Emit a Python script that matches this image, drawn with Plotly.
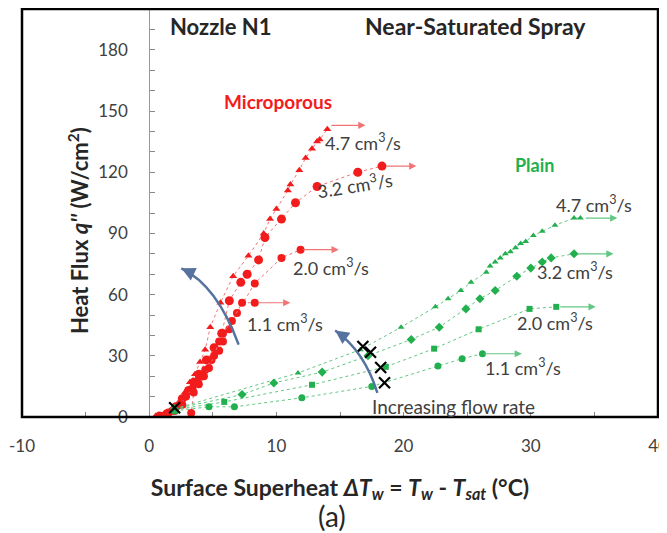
import plotly.graph_objects as go

# ---------------- data ----------------
# Microporous surface (red)
mp47_x = [0.5, 1.2, 1.8, 2.3, 2.8, 3.2, 3.6, 4.0, 4.4, 4.8, 5.6, 6.6, 7.8, 9.0, 9.5, 10.0, 10.9, 11.1, 11.8, 12.3, 12.8, 13.2, 13.4, 14.0]
mp47_y = [0.5, 2, 4, 7, 12, 17, 21, 27, 33, 44, 56, 69, 79, 90, 97, 102, 111, 114, 121, 127, 131.5, 135, 136, 141]
mp32_x = [0.8, 1.5, 2.1, 2.6, 3.1, 3.5, 3.9, 4.5, 5.1, 5.7, 6.3, 7.2, 7.7, 8.6, 9.1, 10.4, 11.5, 13.2, 16.4, 18.3]
mp32_y = [0.5, 2, 5, 9, 13, 17, 21, 28, 34, 41, 57, 66, 70, 77, 88, 97, 105, 113, 120, 123]
mp20_x = [1.0, 1.8, 2.4, 2.9, 3.4, 3.9, 4.4, 4.9, 5.5, 5.8, 6.3, 6.9, 8.3, 10.4, 11.9]
mp20_y = [0.5, 3, 6, 10, 14, 18.7, 23, 28, 32.5, 37, 43, 51, 65.5, 78, 82]
mp11_x = [1.2, 2.0, 2.6, 3.3, 3.5, 3.9, 4.3, 4.7, 5.1, 5.5, 5.8, 6.5, 7.3, 8.3]
mp11_y = [0.5, 3, 6, 2, 12, 16, 20, 24, 30, 37, 41, 47, 56, 56]

# Plain surface (green)
pl47_x = [2.0, 11.7, 16.6, 19.8, 22.5, 23.5, 24.5, 25.3, 26.5, 26.8, 27.2, 27.6, 28.0, 28.4, 28.8, 29.2, 29.6, 30.2, 30.9, 31.9, 33.4, 33.9]
pl47_y = [4, 21.6, 33, 44, 54, 58, 62, 66, 71, 74, 76, 78, 80, 81, 83, 85, 86, 89, 91, 94, 97.5, 97.5]
pl32_x = [2.0, 7.3, 9.8, 13.6, 17.2, 20.6, 22.8, 24.9, 26.0, 27.2, 28.9, 30.0, 30.9, 31.6, 33.4]
pl32_y = [4, 11, 16.7, 22, 30, 38, 44, 53, 58, 62, 69, 73, 76, 78, 80]
pl20_x = [2.0, 5.9, 12.8, 18.6, 22.4, 25.9, 29.9, 32.0]
pl20_y = [3.5, 7.4, 15.8, 24.6, 33.5, 43, 53, 54]
pl11_x = [2.0, 4.7, 6.7, 12.0, 17.5, 22.7, 24.6, 26.2]
pl11_y = [3, 5, 5, 9.4, 15, 25, 28.6, 31]

# Onset markers (black crosses)
onb_x = [2.0, 16.8, 17.4, 18.2, 18.5]
onb_y = [4.5, 34.6, 31.7, 24.3, 16.8]

# CHF arrows: (x_start, x_end, y)
mp_chf = [(14.2, 17.0, 143), (18.5, 21.0, 123), (12.0, 14.9, 82), (8.5, 11.1, 56)]
pl_chf = [(34.2, 36.8, 97.5), (33.6, 36.5, 80), (32.2, 35.1, 54), (26.2, 29.3, 31)]

flow_labels = ["4.7 cm³/s", "3.2 cm³/s", "2.0 cm³/s", "1.1 cm³/s"]

x_ticks = [-10, 0, 10, 20, 30, 40]
x_ticktext = ["-10", "0", "10", "20", "30", "40"]
y_ticks = [0, 30, 60, 90, 120, 150, 180]

RED = "#f21c1c"
RED_L = "#f27474"
GREEN = "#22b04e"
GREEN_L = "#62c783"
BLUE = "#56739f"
TXT = "#404040"
DARK = "#262626"
FONT = "Lato"

fig = go.Figure()

def add_series(x, y, color, lcolor, symbol, size, name):
    fig.add_trace(go.Scatter(
        x=x, y=y, mode="lines+markers", name=name, showlegend=False,
        line=dict(color=lcolor, width=1, dash="dot"),
        marker=dict(symbol=symbol, size=size, color=color, line=dict(width=0)),
    ))

add_series(mp47_x, mp47_y, RED, RED_L, "triangle-up", 7, "Microporous 4.7")
add_series(mp32_x, mp32_y, RED, RED_L, "circle", 9, "Microporous 3.2")
add_series(mp20_x, mp20_y, RED, RED_L, "circle", 8, "Microporous 2.0")
add_series(mp11_x, mp11_y, RED, RED_L, "circle", 8, "Microporous 1.1")
add_series(pl47_x, pl47_y, GREEN, GREEN_L, "triangle-up", 6, "Plain 4.7")
add_series(pl32_x, pl32_y, GREEN, GREEN_L, "diamond", 7, "Plain 3.2")
add_series(pl20_x, pl20_y, GREEN, GREEN_L, "square", 6, "Plain 2.0")
add_series(pl11_x, pl11_y, GREEN, GREEN_L, "circle", 7, "Plain 1.1")

fig.add_trace(go.Scatter(
    x=onb_x, y=onb_y, mode="markers", showlegend=False, name="ONB",
    marker=dict(symbol="x-thin-open", size=11, color="black", line=dict(width=2.2, color="black")),
))

annotations = []
for (x0, x1, yv) in mp_chf:
    annotations.append(dict(x=x1, y=yv, ax=x0, ay=yv, xref="x", yref="y", axref="x", ayref="y",
                            text="", showarrow=True, arrowhead=2, arrowsize=1.2, arrowwidth=1.2,
                            arrowcolor=RED_L, standoff=0))
for (x0, x1, yv) in pl_chf:
    annotations.append(dict(x=x1, y=yv, ax=x0, ay=yv, xref="x", yref="y", axref="x", ayref="y",
                            text="", showarrow=True, arrowhead=2, arrowsize=1.2, arrowwidth=1.2,
                            arrowcolor=GREEN_L, standoff=0))

def txt(x, y, s, size=15, color=TXT, bold=False, angle=0, xanchor="center"):
    annotations.append(dict(x=x, y=y, xref="x", yref="y", text=f"<b>{s}</b>" if bold else s,
                            showarrow=False, font=dict(family=FONT, size=size, color=color),
                            textangle=angle, xanchor=xanchor, yanchor="middle"))

txt(1.45, 191.5, "Nozzle N1", size=22, bold=True, color=DARK, xanchor="left")
txt(16.8, 191.5, "Near-Saturated Spray", size=23, bold=True, color=DARK, xanchor="left")
txt(10.1, 154.5, "Microporous", size=19, bold=True, color=RED)
txt(30.3, 123.5, "Plain", size=18, bold=True, color=GREEN)

mp_lab_pos = [(16.8, 135, 0), (16.2, 113.5, -9), (14.3, 73.4, 0), (10.7, 46.3, 0)]
pl_lab_pos = [(35.0, 104.4, 0), (33.5, 71.4, 0), (31.9, 46.8, 0), (29.4, 24.6, 0)]
for lab, (x, y, a) in zip(flow_labels, mp_lab_pos):
    txt(x, y, lab.replace("³", "<sup>3</sup>"), size=18, angle=a)
for lab, (x, y, a) in zip(flow_labels, pl_lab_pos):
    txt(x, y, lab.replace("³", "<sup>3</sup>"), size=18, angle=a)
txt(23.9, 5.2, "Increasing flow rate", size=19)

# Blue curved arrows (quadratic paths + arrowheads)
arrows = [((7.03, 35.5), (5.34, 64.5), (2.53, 72.9)),
          ((17.94, 11.8), (16.92, 32.3), (14.62, 42.4))]
shapes = []
for p0, c, p2 in arrows:
    shapes.append(dict(type="path", xref="x", yref="y",
                       path=f"M {p0[0]},{p0[1]} Q {c[0]},{c[1]} {p2[0]},{p2[1]}",
                       line=dict(color=BLUE, width=2.5)))
    ax = p2[0] - 0.25 * (p2[0] - c[0])
    ay = p2[1] - 0.25 * (p2[1] - c[1])
    annotations.append(dict(x=p2[0], y=p2[1], ax=ax, ay=ay, xref="x", yref="y", axref="x", ayref="y",
                            text="", showarrow=True, arrowhead=2, arrowsize=1.1, arrowwidth=2.5,
                            arrowcolor=BLUE, standoff=0))

# Frame
shapes.append(dict(type="rect", xref="paper", yref="paper", x0=0, y0=0, x1=1, y1=1,
                   line=dict(color="black", width=2.5), layer="above"))

# Y-axis title (placed by hand, left of the axis drawn at x = 0)
annotations.append(dict(x=0.088, y=0.458, xref="paper", yref="paper",
                        text="<b>Heat Flux <i>q''</i> (W/cm<sup>2</sup>)</b>", showarrow=False,
                        textangle=-90, font=dict(family=FONT, size=22, color=DARK),
                        xanchor="center", yanchor="middle"))

# Panel label
annotations.append(dict(x=0.487, y=-0.243, xref="paper", yref="paper", text="(a)", showarrow=False,
                        font=dict(family=FONT, size=28, color=DARK), xanchor="center", yanchor="middle"))

# The page body has an 8px default margin, so the figure is sized to fit the window
fig.update_layout(
    width=659, height=525,
    margin=dict(l=14, r=9, t=1, b=116),
    paper_bgcolor="white", plot_bgcolor="white",
    font=dict(family=FONT, color=TXT),
    annotations=annotations, shapes=shapes,
    xaxis=dict(range=[-10, 40], tickvals=x_ticks, ticktext=x_ticktext, ticks="inside", ticklen=5,
               tickcolor="#888",
               minor=dict(dtick=5, tick0=0, ticks="inside", ticklen=5, tickcolor="#888"),
               showgrid=False, zeroline=False, showline=False, automargin=False,
               tickfont=dict(size=17, color=TXT), ticklabelstandoff=17, ticklabeloverflow="allow",
               title=dict(text="<b>Surface Superheat <i>ΔT<sub>w</sub></i> = <i>T<sub>w</sub></i> - <i>T<sub>sat</sub></i> (°C)</b>",
                          font=dict(size=23, color=DARK), standoff=24)),
    yaxis=dict(range=[0, 200], tickvals=y_ticks, ticks="inside", ticklen=5, tickcolor="#888",
               minor=dict(dtick=10, tick0=0, ticks="inside", ticklen=5, tickcolor="#888"),
               anchor="free", position=0.2, showline=True, linecolor="#999", linewidth=1,
               showgrid=False, zeroline=False, automargin=False,
               tickfont=dict(size=17, color=TXT), ticklabelstandoff=18, ticklabeloverflow="allow"),
)

fig.write_html("out.html")
